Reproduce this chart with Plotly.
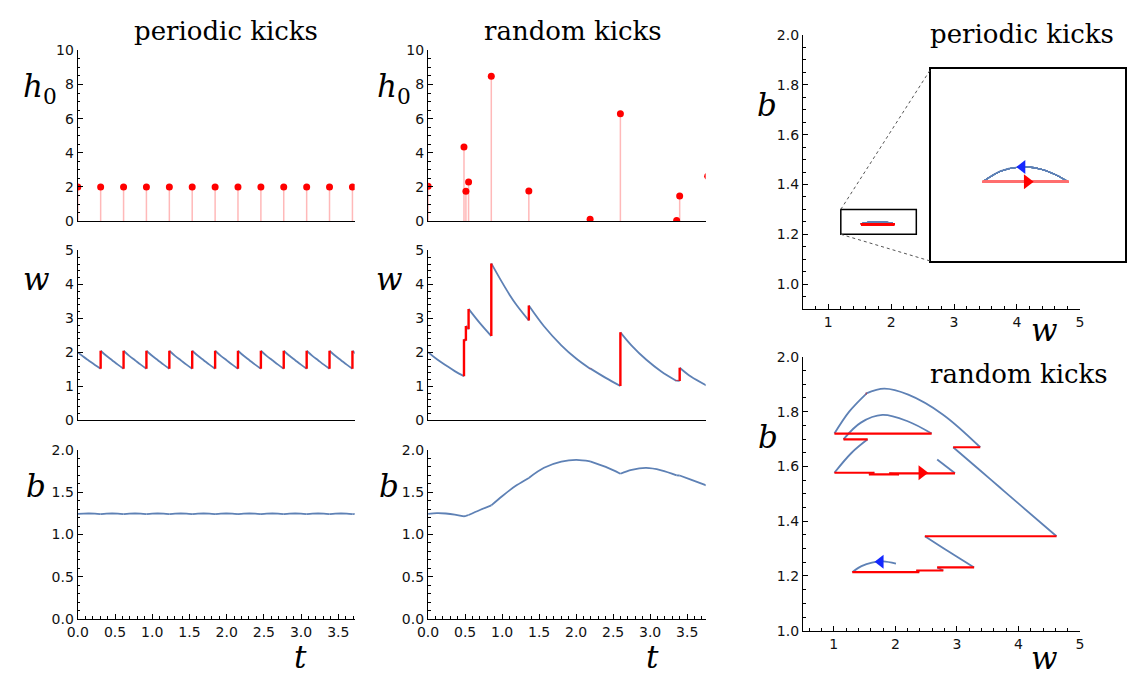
import plotly.graph_objects as go

W, H = 1130, 681

# ---------------- periodic kicks ----------------
per_kick_t = [0.0, 0.307, 0.615, 0.922, 1.230, 1.537, 1.845, 2.152, 2.460, 2.767, 3.075, 3.382, 3.690]
per_kick_h0 = [2.0, 2.0, 2.0, 2.0, 2.0, 2.0, 2.0, 2.0, 2.0, 2.0, 2.0, 2.0, 2.0]
# w and b sampled across one interval between kicks (as a fraction of the interval)
per_seg_frac = [0.0, 0.25, 0.5, 0.75, 1.0]
per_first_w = [2.00, 1.87, 1.75, 1.63, 1.52]
per_first_b = [1.2440, 1.2480, 1.2490, 1.2470, 1.2413]
per_seg_w = [2.05, 1.90, 1.77, 1.64, 1.52]
per_seg_b = [1.2413, 1.2474, 1.2490, 1.2470, 1.2413]

# ---------------- random kicks ----------------
rnd_kick_t = [0.0, 0.485, 0.511, 0.547, 0.854, 1.361, 2.189, 2.598, 3.358, 3.399, 3.777]
rnd_kick_h0 = [2.04, 4.34, 1.75, 2.29, 8.48, 1.77, 0.11, 6.29, 0.04, 1.47, 2.63]
# trajectory samples; a repeated time marks a kick (value before, value after)
rnd_t = [0.000, 0.120, 0.240, 0.360, 0.485,
         0.485, 0.511,
         0.511, 0.547,
         0.547, 0.700, 0.854,
         0.854, 1.000, 1.100, 1.200, 1.361,
         1.361, 1.566, 1.800, 2.000, 2.189,
         2.189, 2.400, 2.598,
         2.598, 2.750, 2.945, 3.150, 3.358,
         3.358, 3.399,
         3.399, 3.550, 3.777,
         3.777, 3.840,
         3.840, 3.920,
         3.920, 4.020]
rnd_w = [2.01, 1.80, 1.62, 1.45, 1.30,
         2.39, 2.34,
         2.78, 2.68,
         3.28, 2.86, 2.48,
         4.62, 4.06, 3.70, 3.38, 2.94,
         3.38, 2.77, 2.21, 1.82, 1.52,
         1.53, 1.25, 1.01,
         2.59, 2.20, 1.79, 1.44, 1.16,
         1.17, 1.16,
         1.55, 1.29, 1.01,
         1.66, 1.57,
         2.06, 1.90,
         2.97, 2.68]
rnd_b = [1.245, 1.253, 1.249, 1.236, 1.214,
         1.214, 1.220,
         1.220, 1.231,
         1.231, 1.290, 1.345,
         1.345, 1.453, 1.523, 1.585, 1.670,
         1.670, 1.790, 1.862, 1.884, 1.866,
         1.866, 1.800, 1.720,
         1.720, 1.765, 1.788, 1.760, 1.700,
         1.700, 1.699,
         1.699, 1.650, 1.577,
         1.577, 1.571,
         1.571, 1.575,
         1.575, 1.625]

# direction markers on the (w, b) trajectories
per_arrow_kick = (1.795, 1.2413)
per_arrow_flow = (1.765, 1.2490)
rnd_arrow_kick = (2.43, 1.577)
rnd_arrow_flow = (1.76, 1.252)

# magnified window of the periodic orbit
zoom_w = [1.2, 2.4]
zoom_b = [1.2, 1.3]

BLUE = "rgb(94,129,181)"
RED = "rgb(255,0,0)"
STEM = "rgb(255,185,185)"
SERIF = "DejaVu Serif"
SANS = "DejaVu Sans"


def build_periodic():
    ts, ws, bs = [], [], []
    for k, t0 in enumerate(per_kick_t):
        period = per_kick_t[min(k + 1, len(per_kick_t) - 1)] - per_kick_t[min(k, len(per_kick_t) - 2)]
        wv = per_first_w if k == 0 else per_seg_w
        bv = per_first_b if k == 0 else per_seg_b
        for f, w, b in zip(per_seg_frac, wv, bv):
            ts.append(t0 + f * period)
            ws.append(w)
            bs.append(b)
    return ts, ws, bs


def split_path(ts):
    """Split a sampled path into continuous pieces and kick jumps."""
    flows, kicks = [], []
    cur = [0]
    for i in range(1, len(ts)):
        if ts[i] == ts[i - 1]:
            flows.append(cur)
            kicks.append((i - 1, i))
            cur = [i]
        else:
            cur.append(i)
    flows.append(cur)
    return flows, kicks


per_t, per_w, per_b = build_periodic()

fig = go.Figure()


def add_flows(xs, ys, flows, xa, ya, width=1.8):
    for idx in flows:
        if len(idx) < 2:
            continue
        fig.add_trace(go.Scatter(
            x=[xs[i] for i in idx], y=[ys[i] for i in idx], xaxis=xa, yaxis=ya,
            mode="lines", line=dict(color=BLUE, width=width, shape="spline", smoothing=1.0),
            hoverinfo="skip", showlegend=False))


def add_kicks(x0s, x1s, y0s, y1s, xa, ya, color=RED, width=2.4):
    xs, ys = [], []
    for a, b, c, d in zip(x0s, x1s, y0s, y1s):
        xs += [a, b, None]
        ys += [c, d, None]
    fig.add_trace(go.Scatter(x=xs, y=ys, xaxis=xa, yaxis=ya, mode="lines",
                             line=dict(color=color, width=width),
                             hoverinfo="skip", showlegend=False))


def add_stems(ts, hs, xa, ya):
    xs, ys = [], []
    for t, h in zip(ts, hs):
        xs += [t, t, None]
        ys += [0, h, None]
    fig.add_trace(go.Scatter(x=xs, y=ys, xaxis=xa, yaxis=ya, mode="lines",
                             line=dict(color=STEM, width=1.5),
                             hoverinfo="skip", showlegend=False))
    fig.add_trace(go.Scatter(x=ts, y=hs, xaxis=xa, yaxis=ya, mode="markers",
                             marker=dict(color=RED, size=7),
                             hoverinfo="skip", showlegend=False))


def time_panels(ts, ws, bs, kick_t, kick_h, cols):
    xh, xw, xb = cols
    flows, kicks = split_path(ts)
    add_stems(kick_t, kick_h, "x" + xh, "y" + xh)
    add_flows(ts, ws, flows, "x" + xw, "y" + xw)
    add_kicks([ts[i] for i, j in kicks], [ts[j] for i, j in kicks],
              [ws[i] for i, j in kicks], [ws[j] for i, j in kicks], "x" + xw, "y" + xw)
    add_flows(ts, bs, flows, "x" + xb, "y" + xb)


def phase_panel(ts, ws, bs, ax, kick_color=RED, kick_width=2.2, flow_width=1.8):
    flows, kicks = split_path(ts)
    add_flows(ws, bs, flows, "x" + ax, "y" + ax, width=flow_width)
    add_kicks([ws[i] for i, j in kicks], [ws[j] for i, j in kicks],
              [bs[i] for i, j in kicks], [bs[j] for i, j in kicks], "x" + ax, "y" + ax,
              color=kick_color, width=kick_width)


def arrow(pos, symbol, color, ax, size=12):
    fig.add_trace(go.Scatter(x=[pos[0]], y=[pos[1]], xaxis="x" + ax, yaxis="y" + ax,
                             mode="markers", marker=dict(symbol=symbol, color=color, size=size),
                             hoverinfo="skip", showlegend=False))


time_panels(per_t, per_w, per_b, per_kick_t, per_kick_h0, ("1", "2", "3"))
time_panels(rnd_t, rnd_w, rnd_b, rnd_kick_t, rnd_kick_h0, ("4", "5", "6"))
phase_panel(per_t, per_w, per_b, "7")
phase_panel(rnd_t, rnd_w, rnd_b, "8")
arrow(rnd_arrow_kick, "triangle-right", RED, "8", 13)
arrow(rnd_arrow_flow, "triangle-left", "rgb(20,40,255)", "8", 12)
phase_panel(per_t, per_w, per_b, "9", kick_color="rgb(255,110,110)", kick_width=2.0, flow_width=1.2)
arrow(per_arrow_kick, "triangle-right", RED, "9", 13)
arrow(per_arrow_flow, "triangle-left", "rgb(20,40,255)", "9", 12)


# ---------------- axes ----------------
def px_x(a, b):
    return [a / W, b / W]


def px_y(top, bottom):
    return [1 - bottom / H, 1 - top / H]


TICKFONT = dict(family=SANS, size=14, color="#111111")


def axis(domain, rng, anchor, dtick=None, minor=None, labels=True, ticks=True, fmt=None, tick0=None):
    d = dict(domain=domain, range=rng, anchor=anchor, showgrid=False, zeroline=False,
             showline=True, linecolor="black", linewidth=1.3, mirror=False,
             ticks="inside" if ticks else "", ticklen=5, tickwidth=1, tickcolor="black",
             showticklabels=labels, tickfont=TICKFONT, fixedrange=True)
    if dtick is not None:
        d["dtick"] = dtick
        d["tick0"] = tick0 if tick0 is not None else 0
    if minor is not None and ticks:
        d["minor"] = dict(dtick=minor, tick0=d.get("tick0", 0), ticks="inside", ticklen=2.5,
                          tickwidth=1, tickcolor="black", showgrid=False)
    if fmt:
        d["tickformat"] = fmt
    return d


col1 = px_x(67.7, 348.3)
col2 = px_x(422.7, 704.0)
row_h = px_y(43.3, 218.3)
row_w = px_y(248.3, 422.3)
row_b = px_y(452.7, 625.7)
col3 = px_x(802.7, 1083.3)
top3 = px_y(27.7, 308.3)
bot3 = px_y(357.3, 637.7)
inset_x = px_x(932.3, 1129.0)
inset_y = px_y(62.3, 259.3)

per_range = [0, 3.72]
rnd_range = [0, 3.75]

layout = dict(
    width=W, height=H, margin=dict(l=0, r=0, t=0, b=0),
    paper_bgcolor="white", plot_bgcolor="rgba(0,0,0,0)", showlegend=False,
    xaxis=axis(col1, per_range, "y", labels=False, ticks=False),
    yaxis=axis(row_h, [0, 10], "x", 2, 0.5),
    xaxis2=axis(col1, per_range, "y2", labels=False, ticks=False),
    yaxis2=axis(row_w, [0, 5], "x2", 1, 0.2),
    xaxis3=axis(col1, per_range, "y3", 0.5, 0.1, fmt=".1f"),
    yaxis3=axis(row_b, [0, 2], "x3", 0.5, 0.1, fmt=".1f"),
    xaxis4=axis(col2, rnd_range, "y4", labels=False, ticks=False),
    yaxis4=axis(row_h, [0, 10], "x4", 2, 0.5),
    xaxis5=axis(col2, rnd_range, "y5", labels=False, ticks=False),
    yaxis5=axis(row_w, [0, 5], "x5", 1, 0.2),
    xaxis6=axis(col2, rnd_range, "y6", 0.5, 0.1, fmt=".1f"),
    yaxis6=axis(row_b, [0, 2], "x6", 0.5, 0.1, fmt=".1f"),
    xaxis7=axis(col3, [0.6, 5], "y7", 1, 0.2),
    yaxis7=axis(top3, [0.9, 2.0], "x7", 0.2, 0.05, fmt=".1f", tick0=1.0),
    xaxis8=axis(col3, [0.5, 5], "y8", 1, 0.2),
    yaxis8=axis(bot3, [1.0, 2.0], "x8", 0.2, 0.05, fmt=".1f", tick0=1.0),
    xaxis9=dict(domain=inset_x, range=zoom_w, anchor="y9", showgrid=False, zeroline=False,
                showline=True, mirror=True, linecolor="black", linewidth=1.5,
                ticks="", showticklabels=False, fixedrange=True),
    yaxis9=dict(domain=inset_y, range=zoom_b, anchor="x9", showgrid=False, zeroline=False,
                showline=True, mirror=True, linecolor="black", linewidth=1.5,
                ticks="", showticklabels=False, fixedrange=True),
)
fig.update_layout(**layout)


# magnified box and its connector lines
def data_to_paper(xv, yv, dom_x, rng_x, dom_y, rng_y):
    px = dom_x[0] + (xv - rng_x[0]) / (rng_x[1] - rng_x[0]) * (dom_x[1] - dom_x[0])
    py = dom_y[0] + (yv - rng_y[0]) / (rng_y[1] - rng_y[0]) * (dom_y[1] - dom_y[0])
    return px, py


fig.add_shape(type="rect", xref="x7", yref="y7", x0=zoom_w[0], x1=zoom_w[1],
              y0=zoom_b[0], y1=zoom_b[1], line=dict(color="black", width=1.5),
              fillcolor="rgba(0,0,0,0)")
tl = data_to_paper(zoom_w[0], zoom_b[1], col3, [0.6, 5], top3, [0.9, 2.0])
bl = data_to_paper(zoom_w[0], zoom_b[0], col3, [0.6, 5], top3, [0.9, 2.0])
for (sx, sy), (ex, ey) in [(tl, (inset_x[0], inset_y[1])), (bl, (inset_x[0], inset_y[0]))]:
    fig.add_shape(type="line", xref="paper", yref="paper", x0=sx, y0=sy, x1=ex, y1=ey,
                  line=dict(color="#555555", width=1, dash="dot"))


# ---------------- text ----------------
def label(text, x, y, size=31, italic=True):
    fig.add_annotation(text=text, xref="paper", yref="paper", x=x / W, y=1 - y / H,
                       xanchor="center", yanchor="middle", showarrow=False,
                       font=dict(family=SERIF, size=size, color="black",
                                 style="italic" if italic else "normal"))


label("periodic kicks", 218, 24, size=26, italic=False)
label("random kicks", 570, 24, size=26, italic=False)
label("periodic kicks", 1025, 27, size=26, italic=False)
label("random kicks", 1022, 375, size=26, italic=False)

H0 = "h<sub><span style='font-style:normal'>0</span></sub>"
label(H0, 29, 82)
label("w", 26, 278)
label("b", 25, 489)
label("t", 293, 665)
label(H0, 388, 82)
label("w", 384, 278)
label("b", 383, 489)
label("t", 650, 665)
label("b", 766, 99)
label("w", 1047, 330)
label("b", 767, 439)
label("w", 1047, 666)

fig.write_html("out.html")
